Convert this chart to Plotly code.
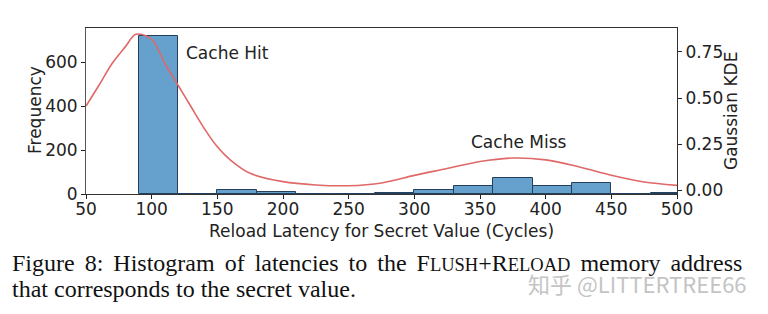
import plotly.graph_objects as go

# ---- data ----
bin_left = [90, 120, 150, 180, 210, 240, 270, 300, 330, 360, 390, 420, 450, 480]
bin_count = [720, 0, 18, 7, 0, 0, 5, 20, 35, 74, 38, 50, 0, 3]
bin_width = 30

kde_x = [50, 60, 70, 80, 88, 100, 110, 120, 130, 140, 150, 160, 175, 200, 225, 250,
         275, 300, 325, 350, 375, 400, 425, 450, 475, 500]
kde_y = [0.457, 0.571, 0.689, 0.779, 0.846, 0.819, 0.689, 0.571, 0.453, 0.336, 0.236,
         0.164, 0.092, 0.047, 0.029, 0.025, 0.040, 0.081, 0.118, 0.156, 0.175, 0.165,
         0.128, 0.082, 0.045, 0.027]

x_ticks = [50, 100, 150, 200, 250, 300, 350, 400, 450, 500]
y_ticks = [0, 200, 400, 600]
y2_ticks = [0.0, 0.25, 0.5, 0.75]

# ---- geometry (pixels) ----
W, H = 768, 314
L, R, T, B = 86, 91, 28, 120
PW, PH = W - L - R, H - T - B


def px(xp):
    return (xp - L) / PW


def py(yp):
    return (H - B - yp) / PH


SANS = "DejaVu Sans"
SERIF = "Liberation Serif"
CAP = 24
SC = 18.5
SP = " \u2006"  # justified-looking word gap

fig = go.Figure()
fig.add_trace(go.Bar(
    x=bin_left, y=bin_count, width=bin_width, offset=0,
    marker=dict(color="#66A0CC", line=dict(color="#23415e", width=1)),
    showlegend=False, hoverinfo="skip",
))
fig.add_trace(go.Scatter(
    x=kde_x, y=kde_y, yaxis="y2", mode="lines",
    line=dict(color="#E06868", width=1.6, shape="spline", smoothing=0.9),
    showlegend=False, hoverinfo="skip",
))

fig.update_layout(
    width=W, height=H,
    margin=dict(l=L, r=R, t=T, b=B, pad=0),
    paper_bgcolor="white", plot_bgcolor="white",
    bargap=0,
    font=dict(family=SANS, size=17, color="#222222"),
    xaxis=dict(range=[50, 500], tickvals=x_ticks, ticks="outside", ticklen=4,
               ticklabelstandoff=-4,
               tickcolor="#222", showline=True, linecolor="#333", linewidth=1,
               mirror=True, showgrid=False, zeroline=False,
               tickfont=dict(family=SANS, size=17, color="#222")),
    yaxis=dict(range=[0, 756], tickvals=y_ticks, ticks="outside", ticklen=4,
               tickcolor="#222", showline=True, linecolor="#555", linewidth=1,
               showgrid=False, zeroline=False,
               tickfont=dict(family=SANS, size=17, color="#222")),
    yaxis2=dict(range=[-0.020, 0.880], tickvals=y2_ticks, ticktext=["0.00", "0.25", "0.50", "0.75"],
                overlaying="y", side="right", ticks="outside", ticklen=4,
                tickcolor="#222", showline=True, linecolor="#333", linewidth=1,
                showgrid=False, zeroline=False,
                tickfont=dict(family=SANS, size=17, color="#222")),
)

line1_words = ["Figure", "8:", "Histogram", "of", "latencies", "to", "the",
               f"F<span style='font-size:{SC}px'>LUSH</span>+R<span style='font-size:{SC}px'>ELOAD</span>",
               "memory", "address"]

ann = [
    dict(text="Cache Hit", x=158, y=644, xref="x", yref="y", showarrow=False,
         font=dict(family=SANS, size=17, color="#222")),
    dict(text="Cache Miss", x=380, y=238, xref="x", yref="y", showarrow=False,
         font=dict(family=SANS, size=17, color="#222")),
    dict(text="Reload Latency for Secret Value (Cycles)", x=px(381), y=py(230.5),
         xref="paper", yref="paper", showarrow=False, xanchor="center", yanchor="middle",
         font=dict(family=SANS, size=17, color="#222")),
    dict(text="Frequency", x=px(35), y=py(110), textangle=-90,
         xref="paper", yref="paper", showarrow=False, xanchor="center", yanchor="middle",
         font=dict(family=SANS, size=17, color="#222")),
    dict(text="Gaussian KDE", x=px(731), y=py(111), textangle=-90,
         xref="paper", yref="paper", showarrow=False, xanchor="center", yanchor="middle",
         font=dict(family=SANS, size=17, color="#222")),
    dict(text=SP.join(line1_words),
         x=px(10), y=py(262.5), xref="paper", yref="paper", showarrow=False,
         xanchor="left", yanchor="middle",
         font=dict(family=SERIF, size=CAP, color="#111")),
    dict(text="that corresponds to the secret value.",
         x=px(10), y=py(289), xref="paper", yref="paper", showarrow=False,
         xanchor="left", yanchor="middle",
         font=dict(family=SERIF, size=CAP, color="#111")),
    dict(text="知乎 @LITTERTREE66",
         x=px(749), y=py(283), xref="paper", yref="paper", showarrow=False,
         xanchor="right", yanchor="middle",
         font=dict(family="Noto Sans CJK SC", size=22, color="#c4c4c4")),
]
fig.update_layout(annotations=ann)

fig.write_html("out.html")
